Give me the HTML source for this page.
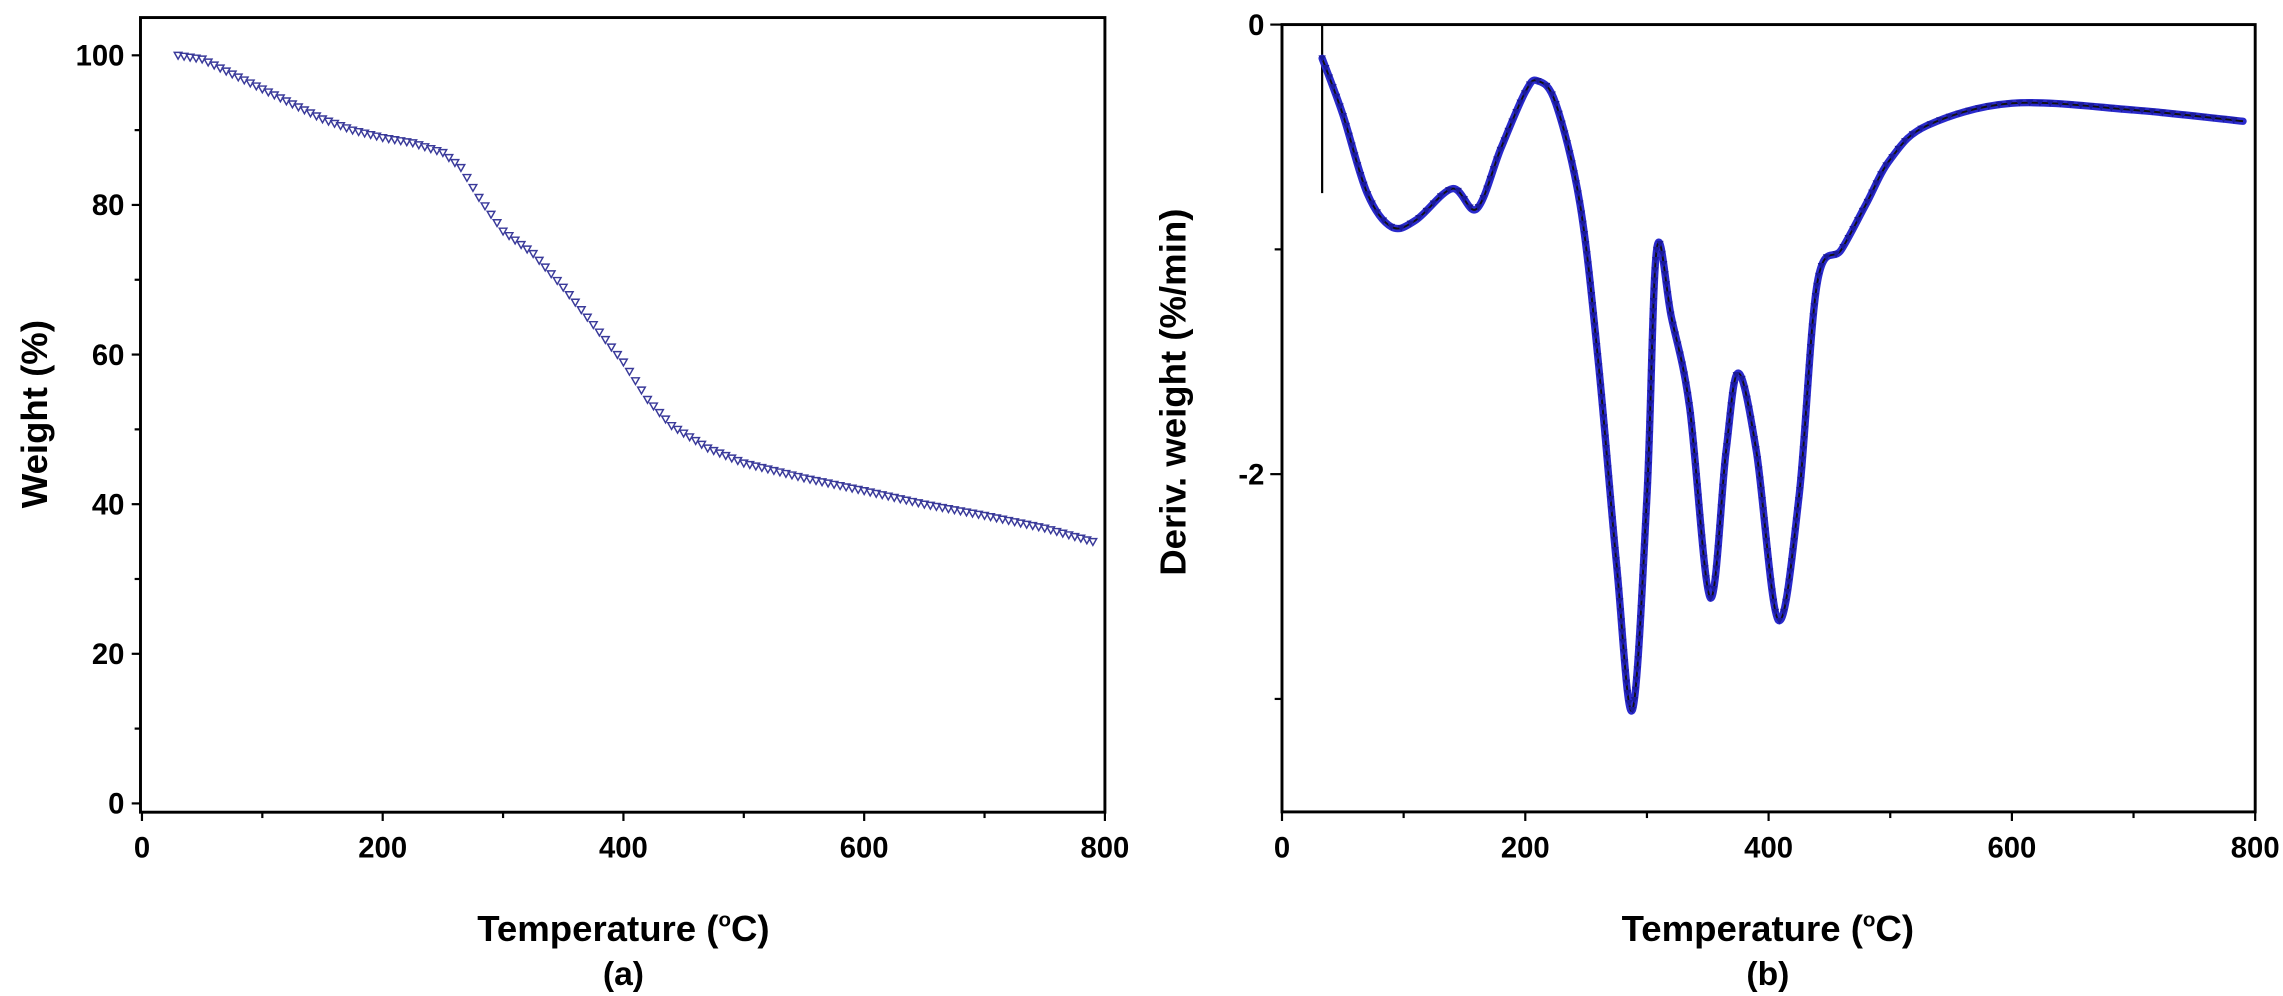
<!DOCTYPE html>
<html><head><meta charset="utf-8"><style>
html,body{margin:0;padding:0;background:#fff;}
svg{display:block;}
text{font-family:"Liberation Sans",Arial,sans-serif;font-weight:bold;fill:#000;}
</style></head><body>
<svg id="fig" width="2283" height="996" viewBox="0 0 1560 680.6" preserveAspectRatio="none">
<rect width="1560" height="681" fill="#fff"/>
<g id="pa"></g>
<g id="pb"></g>
</svg>
<script>
const aTemps=[30,50,75,100,125,150,175,200,225,250,265,280,300,325,350,375,400,420,440,470,500,550,600,650,700,750,790];
const aWeight=[100,99.5,97.5,95.5,93.5,91.5,90,89,88.3,87,85,81,76.5,73.5,69,64,59,54,50.5,47.5,45.5,43.5,41.8,40,38.5,36.8,35];
const aXTicks=[0,200,400,600,800];
const aYTicks=[0,20,40,60,80,100];
const bTemps=[33,50,70,90,110,140,160,180,200,210,225,245,260,275,288,300,308,320,335,352,365,375,390,408,425,440,460,480,500,530,600,700,790];
const bDeriv=[-0.15,-0.4,-0.75,-0.9,-0.87,-0.73,-0.82,-0.55,-0.3,-0.25,-0.35,-0.8,-1.5,-2.4,-3.05,-2.1,-1.0,-1.3,-1.7,-2.55,-1.9,-1.55,-1.9,-2.65,-2.1,-1.15,-1.0,-0.8,-0.6,-0.45,-0.35,-0.38,-0.43];
const bXTicks=[0,200,400,600,800];
const bYTicks=[0,-2];
const NS="http://www.w3.org/2000/svg";
function mk(p,t,a){const e=document.createElementNS(NS,t);for(const k in a)e.setAttribute(k,a[k]);p.appendChild(e);return e;}
function lin(d0,d1,r0,r1){return v=>r0+(v-d0)*(r1-r0)/(d1-d0);}
function dense(xs,ys,step){const o=[];for(let i=0;i<xs.length-1;i++){for(let t=xs[i];t<xs[i+1];t+=step){const f=(t-xs[i])/(xs[i+1]-xs[i]);o.push([t,ys[i]+f*(ys[i+1]-ys[i])]);}}o.push([xs[xs.length-1],ys[ys.length-1]]);return o;}
function smooth(P){let d=`M${P[0][0]},${P[0][1]}`;for(let i=0;i<P.length-1;i++){const p0=P[Math.max(0,i-1)],p1=P[i],p2=P[i+1],p3=P[Math.min(P.length-1,i+2)];
const c1=[p1[0]+(p2[0]-p0[0])/6,p1[1]+(p2[1]-p0[1])/6],c2=[p2[0]-(p3[0]-p1[0])/6,p2[1]-(p3[1]-p1[1])/6];d+=` C${c1[0]},${c1[1]} ${c2[0]},${c2[1]} ${p2[0]},${p2[1]}`;}return d;}

// Panel A
const ga=document.getElementById('pa');
const ax=lin(0,800,97,755), ay=lin(0,100,549,37.8);
let r=mk(ga,'rect',{x:96,y:12,width:659,height:543,fill:'none',stroke:'#000','stroke-width':2});


for(let v=0;v<=100;v+=10){const y=ay(v);mk(ga,'line',{x1:96,x2:v%20==0?90:92,y1:y,y2:y,stroke:'#000','stroke-width':1.5});}
for(let v=0;v<=800;v+=100){const x=ax(v);mk(ga,'line',{x1:x,x2:x,y1:555,y2:v%200==0?561:559,stroke:'#000','stroke-width':1.5});}
aYTicks.forEach(v=>{const t=mk(ga,'text',{x:85,y:ay(v)+7,'text-anchor':'end','font-size':20});t.textContent=v;

});
aXTicks.forEach(v=>{const t=mk(ga,'text',{x:ax(v),y:586,'text-anchor':'middle','font-size':20});t.textContent=v;

});
let t=mk(ga,'text',{x:0,y:0,'text-anchor':'middle','font-size':25,transform:'translate(32,283) rotate(-90)'});t.textContent='Weight (%)';


t=mk(ga,'text',{x:426,y:643,'text-anchor':'middle','font-size':25});t.innerHTML='Temperature (<tspan dy="-10" font-size="14">o</tspan><tspan dy="10">C)</tspan>';


t=mk(ga,'text',{x:426,y:673,'text-anchor':'middle','font-size':23});t.textContent='(a)';


const sa=mk(ga,'g',{fill:'none',stroke:'#3a3a9a','stroke-width':1});


dense(aTemps,aWeight,5).forEach(([tx,w])=>{const x=ax(tx),y=ay(w);
const m=mk(sa,'path',{d:`M${x-2.6},${y-2} L${x+2.6},${y-2} L${x},${y+2.6} Z`});

});

// Panel B
const gb=document.getElementById('pb');
const bx=lin(0,800,876,1541), by=lin(0,-2,16.8,324);
r=mk(gb,'rect',{x:876,y:16.8,width:665,height:538,fill:'none',stroke:'#000','stroke-width':2});


for(let v=0;v>=-3;v-=1){const y=by(v);mk(gb,'line',{x1:876,x2:v%2==0?868:871,y1:y,y2:y,stroke:'#000','stroke-width':1.5});}
for(let v=0;v<=800;v+=100){const x=bx(v);mk(gb,'line',{x1:x,x2:x,y1:555,y2:v%200==0?561:559,stroke:'#000','stroke-width':1.5});}
bYTicks.forEach(v=>{const t=mk(gb,'text',{x:864,y:by(v)+7,'text-anchor':'end','font-size':20});t.textContent=v;

});
bXTicks.forEach(v=>{const t=mk(gb,'text',{x:bx(v),y:586,'text-anchor':'middle','font-size':20});t.textContent=v;

});
t=mk(gb,'text',{x:0,y:0,'text-anchor':'middle','font-size':25,transform:'translate(810,268) rotate(-90)'});t.textContent='Deriv. weight (%/min)';


t=mk(gb,'text',{x:1208,y:643,'text-anchor':'middle','font-size':25});t.innerHTML='Temperature (<tspan dy="-10" font-size="14">o</tspan><tspan dy="10">C)</tspan>';


t=mk(gb,'text',{x:1208,y:673,'text-anchor':'middle','font-size':23});t.textContent='(b)';


let v0=mk(gb,'line',{x1:bx(bTemps[0]),x2:bx(bTemps[0]),y1:by(0),y2:by(-0.75),stroke:'#000','stroke-width':1.5});


const P=bTemps.map((tx,i)=>[bx(tx),by(bDeriv[i])]);
const dpath=smooth(P);
let pl=mk(gb,'path',{d:dpath,fill:'none',stroke:'#2a2acc','stroke-width':5,'stroke-linejoin':'round','stroke-linecap':'round'});


pl=mk(gb,'path',{d:dpath,fill:'none',stroke:'#111','stroke-width':1.3,'stroke-linejoin':'round'});


const sb=mk(gb,'g',{fill:'#1a1a99'});


const pathEl=pl, L=pathEl.getTotalLength();
for(let s=0;s<=L;s+=7){const q=pathEl.getPointAtLength(s);
const m=mk(sb,'path',{d:`M${q.x-2.5},${q.y-2} L${q.x+2.5},${q.y-2} L${q.x},${q.y+2.5} Z`});

}
</script>
</body></html>
